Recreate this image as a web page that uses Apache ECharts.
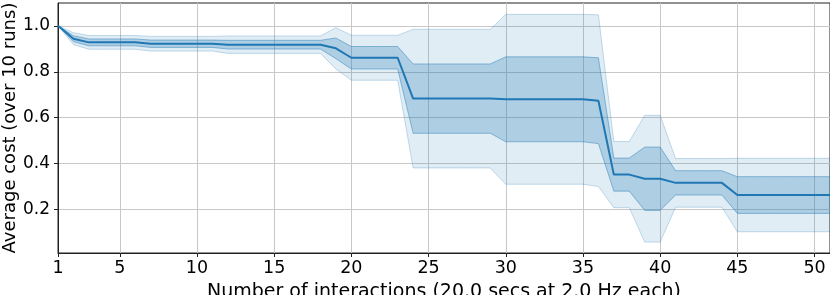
<!DOCTYPE html>
<html>
<head>
<meta charset="utf-8">
<script src="https://cdn.jsdelivr.net/npm/echarts@6/dist/echarts.min.js"></script>
<style>html,body{margin:0;padding:0;background:#fff}#c{width:830px;height:295px}</style>
</head>
<body>
<div id="c"></div>
<script>
// Number of interactions
const xs = [1,2,3,4,5,6,7,8,9,10,11,12,13,14,15,16,17,18,19,20,21,22,23,24,25,26,27,28,29,30,31,32,33,34,35,36,37,38,39,40,41,42,43,44,45,46,47,48,49,50,51];
// mean cost
const meanCost = [1.0,0.944,0.928,0.928,0.928,0.928,0.922,0.922,0.922,0.922,0.922,0.918,0.918,0.918,0.918,0.918,0.918,0.918,0.902,0.861,0.861,0.861,0.861,0.683,0.683,0.683,0.683,0.683,0.683,0.680,0.680,0.680,0.680,0.680,0.680,0.674,0.352,0.352,0.334,0.334,0.316,0.316,0.316,0.316,0.263,0.263,0.263,0.263,0.263,0.263,0.263];
// inner band (mean ± 1 std)
const innerLow = [1.0,0.931,0.913,0.913,0.913,0.913,0.906,0.906,0.906,0.906,0.906,0.899,0.899,0.899,0.899,0.899,0.899,0.899,0.857,0.812,0.812,0.812,0.812,0.532,0.532,0.532,0.532,0.532,0.532,0.495,0.495,0.495,0.495,0.495,0.495,0.487,0.280,0.280,0.196,0.196,0.263,0.263,0.263,0.263,0.183,0.183,0.183,0.183,0.183,0.183,0.183];
const innerHigh = [1.0,0.957,0.943,0.943,0.943,0.943,0.938,0.938,0.938,0.938,0.938,0.937,0.937,0.937,0.937,0.937,0.937,0.937,0.947,0.910,0.910,0.910,0.910,0.834,0.834,0.834,0.834,0.834,0.834,0.865,0.865,0.865,0.865,0.865,0.865,0.861,0.424,0.424,0.472,0.472,0.369,0.369,0.369,0.369,0.343,0.343,0.343,0.343,0.343,0.343,0.343];
// outer band (mean ± 2 std)
const outerLow = [1.0,0.918,0.898,0.898,0.898,0.898,0.890,0.890,0.890,0.890,0.890,0.880,0.880,0.880,0.880,0.880,0.880,0.880,0.812,0.763,0.763,0.763,0.763,0.381,0.381,0.381,0.381,0.381,0.381,0.310,0.310,0.310,0.310,0.310,0.310,0.300,0.208,0.208,0.058,0.058,0.210,0.210,0.210,0.210,0.103,0.103,0.103,0.103,0.103,0.103,0.103];
const outerHigh = [1.0,0.970,0.958,0.958,0.958,0.958,0.954,0.954,0.954,0.954,0.954,0.956,0.956,0.956,0.956,0.956,0.956,0.956,0.992,0.959,0.959,0.959,0.959,0.985,0.985,0.985,0.985,0.985,0.985,1.050,1.050,1.050,1.050,1.050,1.050,1.048,0.496,0.496,0.610,0.610,0.422,0.422,0.422,0.422,0.423,0.423,0.423,0.423,0.423,0.423,0.423];
// tick labels
const xTicks = [1,5,10,15,20,25,30,35,40,45,50];
const yTicks = [0.2,0.4,0.6,0.8,1.0];

const diff = (hi,lo) => hi.map((v,i)=>+(v-lo[i]).toFixed(4));
const isTick = (idx,val) => xTicks.indexOf(+val) >= 0 || xTicks.indexOf(xs[idx]) >= 0;

const FONT = 'DejaVu Sans';
const chart = echarts.init(document.getElementById('c'), null, {renderer:'canvas'});
chart.setOption({
  animation:false,
  backgroundColor:'#fff',
  grid:{left:58,right:0,top:3,bottom:42,containLabel:false,outerBoundsMode:'none',
        show:true,borderColor:'#222',borderWidth:1,backgroundColor:'transparent'},
  xAxis:{
    type:'category',data:xs.map(String),boundaryGap:false,
    name:'Number of interactions (20.0 secs at 2.0 Hz each)',
    nameLocation:'middle',nameGap:30,nameMoveOverlap:false,
    nameTextStyle:{fontFamily:FONT,fontSize:19,color:'#000'},
    axisLine:{show:true,onZero:false,lineStyle:{color:'#222',width:1}},
    axisTick:{show:true,length:4,interval:isTick,alignWithLabel:true,lineStyle:{color:'#222'}},
    axisLabel:{interval:isTick,fontFamily:FONT,fontSize:17.5,color:'#000',margin:6},
    splitLine:{show:true,interval:isTick,lineStyle:{color:'#c8c8c8',width:1}}
  },
  yAxis:{
    type:'value',min:0.0105,max:1.0995,
    name:'Average cost (over 10 runs)',
    nameLocation:'middle',nameGap:39,nameMoveOverlap:false,
    nameTextStyle:{fontFamily:FONT,fontSize:18,color:'#000'},
    axisLine:{show:true,onZero:false,lineStyle:{color:'#222',width:1}},
    axisTick:{show:true,length:4,customValues:yTicks,lineStyle:{color:'#222'}},
    axisLabel:{customValues:yTicks,fontFamily:FONT,fontSize:17,color:'#000',margin:8,
      formatter:v=>v.toFixed(1)},
    splitLine:{show:true,lineStyle:{color:'#c8c8c8',width:1}}
  },
  series:[
    {type:'line',name:'outerLow',stack:'outer',data:outerLow,symbol:'none',
     lineStyle:{color:'rgba(31,119,180,0.25)',width:1},z:2},
    {type:'line',name:'outerBand',stack:'outer',data:diff(outerHigh,outerLow),symbol:'none',
     lineStyle:{color:'rgba(31,119,180,0.25)',width:1},
     areaStyle:{color:'rgba(31,119,180,0.134)',opacity:1},z:2},
    {type:'line',name:'innerLow',stack:'inner',data:innerLow,symbol:'none',
     lineStyle:{color:'rgba(31,119,180,0.45)',width:1},z:3},
    {type:'line',name:'innerBand',stack:'inner',data:diff(innerHigh,innerLow),symbol:'none',
     lineStyle:{color:'rgba(31,119,180,0.45)',width:1},
     areaStyle:{color:'rgba(31,119,180,0.26)',opacity:1},z:3},
    {type:'line',name:'mean',data:meanCost,symbol:'none',
     lineStyle:{color:'#1f77b4',width:2},z:4}
  ]
});
</script>
</body>
</html>
